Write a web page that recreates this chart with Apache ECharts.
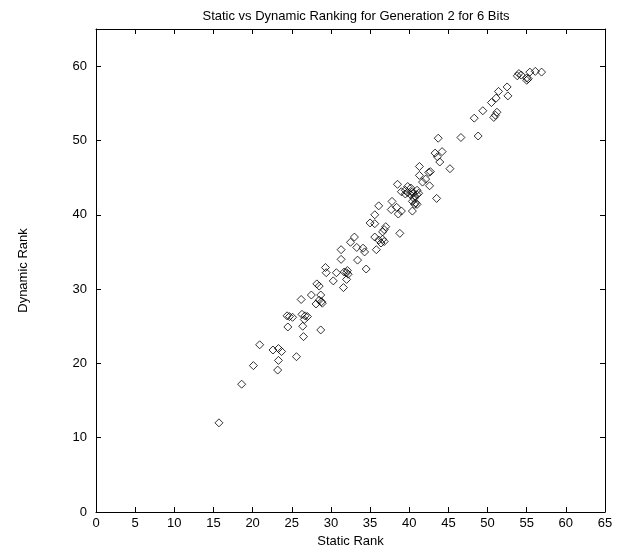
<!DOCTYPE html>
<html>
<head>
<meta charset="utf-8">
<script src="https://cdn.jsdelivr.net/npm/echarts@6/dist/echarts.min.js"></script>
<style>
  html, body { margin: 0; padding: 0; background: #fff; }
  #main { width: 626px; height: 556px; }
</style>
</head>
<body>
<div id="main"></div>
<script>
// static rank (x) and dynamic rank (y) per individual
var staticRank = [
  15.7, 18.6, 20.1, 20.9, 22.6, 23.3, 23.7, 23.3, 23.2, 25.6,
  24.5, 24.4, 24.7, 25.1, 26.3, 26.7, 27.0, 26.6, 26.4, 26.5,
  26.2, 27.5, 28.7, 28.5, 28.8, 28.1, 28.9, 28.2, 28.5, 28.7,
  29.3, 29.4, 30.7, 31.7, 32.0, 32.2, 32.1, 30.3, 32.0, 31.6,
  31.3, 33.4, 34.5, 31.3, 33.3, 34.1, 34.3, 35.8, 33.0, 32.5,
  35.6, 36.1, 36.6, 36.8, 36.4, 35.0, 35.6, 37.0, 36.8, 36.6,
  38.8, 35.6, 36.1, 37.8, 38.4, 37.7, 39.0, 38.6, 40.4, 40.4,
  40.7, 41.0, 40.6, 40.8, 39.0, 39.5, 39.8, 40.2, 40.5, 40.7,
  41.0, 39.8, 40.2, 39.5, 40.4, 41.0, 41.2, 38.5, 42.6, 43.5,
  41.3, 41.3, 42.5, 42.7, 42.1, 41.7, 45.2, 43.3, 44.2, 43.6,
  43.9, 43.7, 46.6, 48.8, 48.3, 49.4, 50.5, 51.1, 51.4, 52.5,
  52.6, 51.2, 51.0, 50.8, 53.8, 54.0, 54.3, 55.0, 55.0, 55.2,
  55.4, 56.1, 56.9
];
var dynamicRank = [
  12.0, 17.2, 19.7, 22.5, 21.8, 22.0, 21.6, 20.4, 19.1, 20.9,
  24.9, 26.4, 26.3, 26.2, 26.6, 26.4, 26.3, 25.9, 25.0, 23.6,
  28.6, 29.2, 29.2, 28.5, 28.3, 28.0, 28.1, 30.7, 30.4, 24.5,
  32.9, 32.2, 32.2, 32.3, 32.2, 32.0, 32.5, 31.1, 31.3, 30.2,
  34.0, 33.9, 32.7, 35.3, 35.6, 35.5, 35.0, 35.3, 37.0, 36.3,
  37.0, 36.6, 36.7, 36.4, 36.2, 38.9, 38.8, 38.4, 38.0, 37.7,
  37.5, 40.0, 41.2, 41.8, 41.0, 40.7, 40.5, 40.1, 40.5, 41.8,
  41.4, 41.4, 42.2, 41.6, 43.1, 42.8, 43.0, 42.7, 42.9, 42.5,
  42.7, 43.8, 43.6, 43.3, 43.1, 43.3, 42.9, 44.1, 43.9, 42.2,
  46.5, 45.3, 45.7, 45.8, 44.8, 44.4, 46.2, 48.3, 48.5, 47.8,
  47.1, 50.3, 50.4, 50.6, 53.0, 54.0, 55.1, 55.7, 56.6, 57.2,
  56.0, 53.8, 53.4, 53.1, 58.7, 59.0, 58.8, 58.4, 58.1, 58.3,
  59.2, 59.3, 59.2
];

var points = [];
for (var i = 0; i < staticRank.length; i++) {
  points.push([staticRank[i], dynamicRank[i]]);
}

var font = 'Liberation Sans, Arial, sans-serif';
var axisLine = { show: true, onZero: false, lineStyle: { color: '#000', width: 1 } };
var tick = { show: true, inside: true, length: 5, lineStyle: { color: '#000', width: 1 } };

var chart = echarts.init(document.getElementById('main'));
var option = {
  animation: false,
  backgroundColor: '#fff',
  title: {
    text: 'Static vs Dynamic Ranking for Generation 2 for 6 Bits',
    left: 351,
    top: 5,
    textAlign: 'center',
    textStyle: { fontFamily: font, fontSize: 13, fontWeight: 'normal', color: '#000' }
  },
  grid: { left: 96, right: 21, top: 29, bottom: 44 },
  xAxis: [{
    type: 'value', min: 0, max: 65, interval: 5,
    name: 'Static Rank', nameLocation: 'middle', nameGap: 22,
    nameTextStyle: { fontFamily: font, fontSize: 13, color: '#000' },
    axisLine: axisLine, axisTick: tick,
    axisLabel: { fontFamily: font, fontSize: 13, color: '#000', margin: 5 },
    splitLine: { show: false }
  }, {
    type: 'value', min: 0, max: 65, interval: 5, position: 'top',
    axisLine: axisLine, axisTick: tick,
    axisLabel: { show: false }, splitLine: { show: false }
  }],
  yAxis: [{
    type: 'value', min: 0, max: 65, interval: 10,
    name: 'Dynamic Rank', nameLocation: 'middle', nameGap: 66,
    nameTextStyle: { fontFamily: font, fontSize: 13, color: '#000' },
    axisLine: axisLine, axisTick: tick,
    axisLabel: { fontFamily: font, fontSize: 13, color: '#000', margin: 9, showMaxLabel: false },
    splitLine: { show: false }
  }, {
    type: 'value', min: 0, max: 65, interval: 10, position: 'right',
    axisLine: axisLine, axisTick: tick,
    axisLabel: { show: false }, splitLine: { show: false }
  }],
  series: [{
    type: 'scatter',
    data: points,
    symbol: 'diamond',
    symbolSize: 8,
    itemStyle: { color: 'rgba(255,255,255,0)', borderColor: '#000', borderWidth: 1 }
  }]
};
chart.setOption(option);
</script>
</body>
</html>
